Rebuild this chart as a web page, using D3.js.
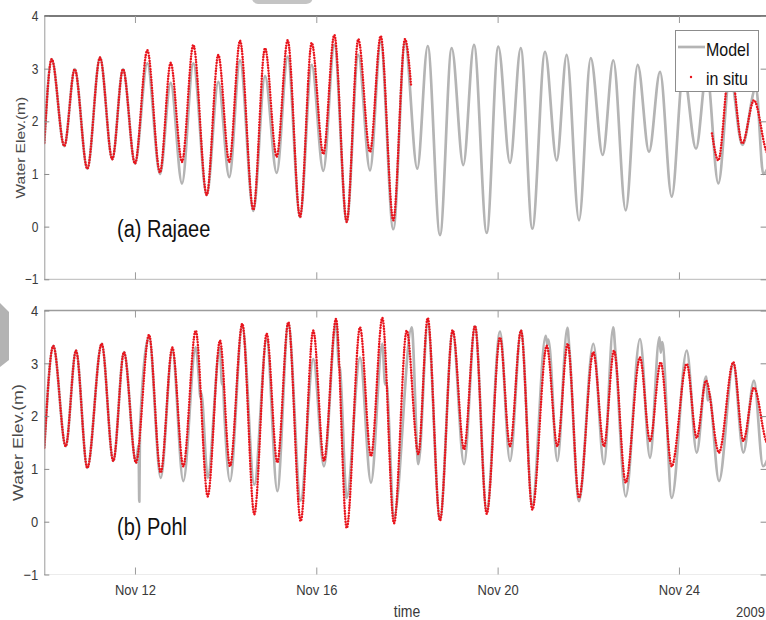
<!DOCTYPE html>
<html>
<head>
<meta charset="utf-8">
<script src="https://cdn.jsdelivr.net/npm/d3@7"></script>
<style>
  body { margin: 0; background: #fff; }
  svg { display: block; font-family: "Liberation Sans", Arial, Helvetica, sans-serif; }
</style>
</head>
<body>
<script>
// ---- Water elevation (m), times in days after 2009-11-10 00:00 ----

// (a) Rajaee: model
const rajaeeModelDay = [0, 0.163, 0.441, 0.671, 0.949, 1.229, 1.5, 1.736, 2.001, 2.272, 2.552, 2.788, 3.038, 3.287,
  3.583, 3.839, 4.081, 4.317, 4.611, 4.869, 5.127, 5.369, 5.641, 5.899, 6.155, 6.398, 6.671, 6.927, 7.185, 7.421,
  7.699, 7.957, 8.228, 8.458, 8.729, 8.987, 9.243, 9.479, 9.76, 10.015, 10.273, 10.51, 10.766, 11.046, 11.304,
  11.524, 11.796, 12.054, 12.318, 12.552, 12.826, 13.091, 13.34, 13.583, 13.841, 14.097, 14.377, 14.613, 14.869,
  15.127, 15.398, 15.7, 15.86, 16.0];
const rajaeeModelElev = [1.59, 3.18, 1.53, 2.99, 1.10, 3.21, 1.28, 2.99, 1.20, 3.10, 1.00, 2.73, 0.82, 3.10,
  0.60, 2.75, 0.94, 3.16, 0.30, 2.86, 1.02, 3.23, 0.18, 3.07, 1.06, 3.45, 0.10, 3.26, 1.07, 3.50,
  -0.05, 3.50, 1.10, 3.43, -0.16, 3.39, 1.17, 3.45, -0.12, 3.42, 1.21, 3.39, -0.04, 3.32, 1.26,
  3.26, 0.12, 3.20, 1.36, 3.16, 0.31, 3.07, 1.42, 2.94, 0.57, 2.95, 1.48, 2.95, 0.82,
  2.90, 1.55, 2.65, 1.00, 1.20];

// (a) Rajaee: in situ (gap in the record marked by null)
const rajaeeObsDay = [0, 0.163, 0.441, 0.671, 0.949, 1.229, 1.5, 1.736, 2.001, 2.272, 2.552, 2.788, 3.038, 3.287,
  3.583, 3.839, 4.081, 4.317, 4.611, 4.869, 5.127, 5.369, 5.641, 5.899, 6.155, 6.398, 6.671, 6.927, 7.185, 7.421,
  7.699, 7.957, 8.09, 11.0, 14.729, 14.869, 15.127, 15.398, 15.656, 15.921, 16.0];
const rajaeeObsElev = [1.59, 3.18, 1.53, 2.99, 1.10, 3.21, 1.28, 2.99, 1.20, 3.35, 1.03, 3.11, 1.23, 3.45,
  0.60, 3.26, 1.23, 3.53, 0.32, 3.39, 1.33, 3.54, 0.18, 3.49, 1.38, 3.64, 0.09, 3.56, 1.42, 3.62,
  0.12, 3.56, 2.69, null, 1.77, 1.26, 3.10, 1.58, 2.40, 1.45, 1.30];

// (b) Pohl: model
const pohlModelDay = [0, 0.199, 0.472, 0.699, 0.949, 1.266, 1.522, 1.758, 2.023, 2.08, 2.096, 2.11, 2.31, 2.568,
  2.824, 3.066, 3.34, 3.42, 3.44, 3.46, 3.605, 3.876, 3.92, 3.94, 3.97, 4.097, 4.368, 4.633, 4.906, 5.14, 5.383,
  5.656, 5.934, 6.17, 6.435, 6.5, 6.52, 6.671, 6.965, 7.207, 7.457, 7.52, 7.54, 7.715, 8.105, 8.251, 8.458, 8.729,
  9.009, 9.259, 9.501, 9.76, 10.053, 10.273, 10.516, 10.766, 11.06, 11.1, 11.12, 11.317, 11.54, 11.58, 11.796,
  12.111, 12.347, 12.55, 12.6, 12.826, 13.141, 13.362, 13.57, 13.6, 13.63, 13.841, 14.172, 14.392, 14.597,
  14.64, 14.66, 14.884, 15.2, 15.42, 15.656, 15.855, 16.0];
const pohlModelElev = [1.40, 3.33, 1.43, 3.24, 1.02, 3.37, 1.15, 3.21, 1.12, 1.45, 0.38, 1.75, 3.50, 0.83,
  3.25, 0.77, 3.30, 2.60, 2.35, 2.45, 0.83, 3.30, 2.60, 2.65, 2.10, 0.77, 3.72, 0.70, 3.45, 0.58, 3.75,
  0.40, 3.08, 1.05, 3.75, 2.95, 2.90, 0.45, 3.11, 0.74, 3.37, 2.60, 2.65, 0.10, 3.68, 1.09, 3.75, 0.05,
  3.60, 1.09, 3.70, 0.20, 3.60, 1.15, 3.62, 0.33, 3.52, 3.35, 3.45, 1.15, 3.67, 3.30, 0.39,
  3.37, 1.09, 3.68, 3.20, 0.48, 3.46, 1.21, 3.49, 3.20, 3.40, 0.45, 3.24, 1.31, 2.75,
  2.30, 2.45, 0.77, 3.00, 1.31, 2.67, 1.05, 1.30];

// (b) Pohl: in situ
const pohlObsDay = [0, 0.199, 0.472, 0.699, 0.949, 1.266, 1.522, 1.758, 2.023, 2.31, 2.568, 2.824, 3.066, 3.34,
  3.605, 3.876, 4.097, 4.368, 4.633, 4.906, 5.14, 5.383, 5.656, 5.934, 6.17, 6.435, 6.671, 6.965, 7.207, 7.457,
  7.715, 7.995, 8.251, 8.458, 8.729, 9.009, 9.259, 9.501, 9.76, 10.053, 10.273, 10.516, 10.766, 11.084, 11.317,
  11.547, 11.796, 12.111, 12.347, 12.568, 12.826, 13.141, 13.362, 13.598, 13.841, 14.172, 14.392, 14.597,
  14.884, 15.2, 15.42, 15.656, 15.921, 16.0];
const pohlObsElev = [1.40, 3.33, 1.43, 3.24, 1.02, 3.37, 1.15, 3.21, 1.12, 3.54, 0.93, 3.30, 1.05, 3.62,
  0.48, 3.43, 1.05, 3.75, 0.14, 3.56, 1.12, 3.78, 0.01, 3.62, 1.15, 3.84, -0.12, 3.68, 1.24, 3.86,
  -0.03, 3.62, 1.28, 3.86, 0.02, 3.63, 1.37, 3.71, 0.15, 3.49, 1.43, 3.62, 0.23, 3.33, 1.43,
  3.37, 0.45, 3.21, 1.43, 3.24, 0.74, 3.11, 1.53, 3.02, 1.05, 2.99, 1.59, 2.67,
  1.31, 3.02, 1.53, 2.54, 1.53, 1.40];

// Axis ticks
const yTickValues = [-1, 0, 1, 2, 3, 4];
const xTickDates = ["2009-11-12", "2009-11-16", "2009-11-20", "2009-11-24"];
const legendLabels = ["Model", "in situ"];

// ---- drawing ----
const W = 766, H = 620;
const TEXT_STRETCH = 1.15;            // glyphs are a little taller than wide
const MODEL_COLOR = "#b4b4b4";
const OBS_COLOR = "#e8141c";
const TEXT_COLOR = "#3a3a3a";

const startDate = new Date(2009, 10, 10);
const endDate = new Date(2009, 10, 26);
const parseDay = d3.timeParse("%Y-%m-%d");
const dayToDate = d => new Date(startDate.getTime() + d * 864e5);
const series = (days, elev) => days.map((d, i) => ({ t: dayToDate(d), v: elev[i] }));

const x = d3.scaleTime().domain([startDate, endDate]).range([44.3, 769.6]);
const [xL, xR] = x.range();

const svg = d3.select("body").append("svg").attr("width", W).attr("height", H);

// grey bits of page chrome at the edges
svg.append("path").attr("d", "M252,-4 H312 Q314,3 306,4 H258 Q251,3 252,-4 Z").attr("fill", "#c4c4c4");
svg.append("path").attr("d", "M0,303 L9,312 L9,360 L0,367 Z").attr("fill", "#b3b3b3");

const panels = [
  { id: "a", title: "(a) Rajaee", top: 16, bottom: 279.3,
    model: series(rajaeeModelDay, rajaeeModelElev), obs: series(rajaeeObsDay, rajaeeObsElev),
    tickFont: 12, labelFont: 13.5, labelX: 20, titleY: 237, topStroke: "#7a7a7a", topWidth: 2,
    bottomStroke: "#c6c6c6", showDates: false, legend: true },
  { id: "b", title: "(b) Pohl", top: 310.5, bottom: 574.5,
    model: series(pohlModelDay, pohlModelElev), obs: series(pohlObsDay, pohlObsElev),
    tickFont: 13, labelFont: 15.5, labelX: 17.5, titleY: 535, topStroke: "#9c9c9c", topWidth: 1.5,
    bottomStroke: "#ececec", showDates: true, legend: false }
];

function stretchText(sel) {
  sel.attr("transform", `scale(1,${TEXT_STRETCH})`);
}

panels.forEach(p => {
  const y = d3.scaleLinear().domain([-1, 4]).range([p.bottom, p.top]);
  const g = svg.append("g");

  svg.append("clipPath").attr("id", "clip-" + p.id)
    .append("rect").attr("x", xL).attr("y", p.top).attr("width", xR - xL).attr("height", p.bottom - p.top);

  const line = d3.line()
    .defined(d => d.v != null)
    .x(d => x(d.t)).y(d => y(d.v))
    .curve(d3.curveMonotoneX);

  const plot = g.append("g").attr("clip-path", `url(#clip-${p.id})`);
  plot.append("path").datum(p.model)
    .attr("d", line).attr("fill", "none")
    .attr("stroke", MODEL_COLOR).attr("stroke-width", 2.7).attr("stroke-linejoin", "round");
  plot.append("path").datum(p.obs)
    .attr("d", line).attr("fill", "none")
    .attr("stroke", OBS_COLOR).attr("stroke-width", 2.5)
    .attr("stroke-linecap", "round").attr("stroke-dasharray", "0.01 2.7");

  // frame: top and bottom edges
  g.append("line").attr("x1", xL).attr("x2", xR).attr("y1", p.top).attr("y2", p.top)
    .attr("stroke", p.topStroke).attr("stroke-width", p.topWidth);
  g.append("line").attr("x1", xL).attr("x2", xR).attr("y1", p.bottom).attr("y2", p.bottom)
    .attr("stroke", p.bottomStroke).attr("stroke-width", 1.2);

  // left axis with inward ticks
  const left = g.append("g").attr("transform", `translate(${xL},0)`)
    .call(d3.axisLeft(y).tickValues(yTickValues).tickFormat(d3.format("d"))
      .tickSizeInner(-5).tickSizeOuter(0).tickPadding(6));
  left.select(".domain").attr("stroke", "#9a9a9a");
  left.selectAll(".tick line").attr("stroke", "#8a8a8a");
  left.selectAll(".tick text").attr("fill", TEXT_COLOR)
    .attr("font-size", p.tickFont).attr("font-family", null).call(stretchText);

  // right axis ticks
  const right = g.append("g").attr("transform", `translate(${xR},0)`)
    .call(d3.axisRight(y).tickValues(yTickValues).tickSizeInner(-9).tickSizeOuter(0).tickFormat(""));
  right.select(".domain").attr("stroke", "#9a9a9a");
  right.selectAll(".tick line").attr("stroke", "#8a8a8a");

  // time ticks top and bottom
  const dates = xTickDates.map(parseDay);
  const topAx = g.append("g").attr("transform", `translate(0,${p.top})`)
    .call(d3.axisTop(x).tickValues(dates).tickSizeInner(-7).tickSizeOuter(0).tickFormat(""));
  topAx.select(".domain").remove();
  topAx.selectAll(".tick line").attr("stroke", "#9a9a9a");

  const bottomAx = g.append("g").attr("transform", `translate(0,${p.bottom})`)
    .call(d3.axisBottom(x).tickValues(dates).tickSizeInner(-7).tickSizeOuter(0).tickPadding(9)
      .tickFormat(p.showDates ? d3.timeFormat("%b %d") : ""));
  bottomAx.select(".domain").remove();
  bottomAx.selectAll(".tick line").attr("stroke", "#9a9a9a");
  bottomAx.selectAll(".tick text").attr("fill", TEXT_COLOR)
    .attr("font-size", 13).attr("font-family", null).call(stretchText);

  // y-axis title
  g.append("text")
    .attr("transform", `translate(${p.labelX},${(p.top + p.bottom) / 2}) rotate(-90) scale(${TEXT_STRETCH},1)`)
    .attr("text-anchor", "middle").attr("dy", "0.35em")
    .attr("font-size", p.labelFont).attr("fill", "#4a4a4a")
    .text("Water Elev.(m)");

  // station name
  g.append("g").attr("transform", `translate(117,${p.titleY})`)
    .append("text").attr("font-size", 20).attr("fill", "#111").text(p.title).call(stretchText);

  if (p.legend) {
    const lg = g.append("g");
    lg.append("rect").attr("x", 675.5).attr("y", 30.5).attr("width", 83).attr("height", 61)
      .attr("fill", "#fff").attr("stroke", "#8c8c8c").attr("stroke-width", 1);
    lg.append("line").attr("x1", 678).attr("x2", 705).attr("y1", 47).attr("y2", 47)
      .attr("stroke", MODEL_COLOR).attr("stroke-width", 2.7);
    lg.append("circle").attr("cx", 691).attr("cy", 77).attr("r", 1.2).attr("fill", OBS_COLOR);
    lg.append("g").attr("transform", "translate(706,56)")
      .append("text").attr("font-size", 16).attr("fill", "#111").text(legendLabels[0]).call(stretchText);
    lg.append("g").attr("transform", "translate(706,85)")
      .append("text").attr("font-size", 16).attr("fill", "#111").text(legendLabels[1]).call(stretchText);
  }
});

// x-axis title and year
svg.append("g").attr("transform", "translate(407,617)")
  .append("text").attr("text-anchor", "middle").attr("font-size", 14).attr("fill", TEXT_COLOR)
  .text("time").call(stretchText);
svg.append("g").attr("transform", "translate(765,617)")
  .append("text").attr("text-anchor", "end").attr("font-size", 13).attr("fill", TEXT_COLOR)
  .text(d3.timeFormat("%Y")(startDate)).call(stretchText);
</script>
</body>
</html>
